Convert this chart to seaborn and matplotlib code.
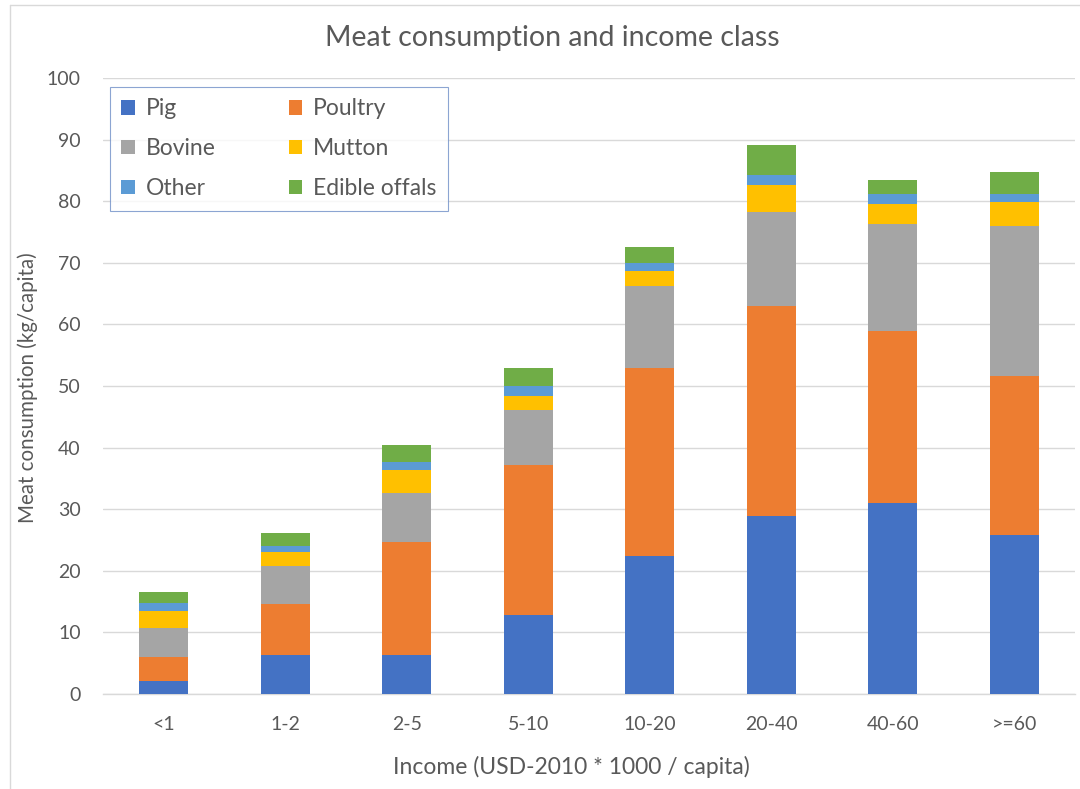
import matplotlib
matplotlib.use("Agg")
import matplotlib.pyplot as plt
from matplotlib.patches import Patch
from matplotlib.lines import Line2D
import numpy as np
import pandas as pd
import seaborn as sns

# Income classes (thousand USD-2010 per capita)
income_classes = ["<1", "1-2", "2-5", "5-10", "10-20", "20-40", "40-60", ">=60"]

# Meat consumption per type, kg/capita
pig = [2.1, 6.3, 6.3, 12.9, 22.4, 28.9, 31.0, 25.8]
poultry = [3.9, 8.3, 18.3, 24.2, 30.6, 34.1, 27.9, 25.8]
bovine = [4.7, 6.1, 8.1, 9.0, 13.2, 15.3, 17.4, 24.4]
mutton = [2.7, 2.3, 3.7, 2.3, 2.5, 4.3, 3.3, 3.8]
other = [1.3, 1.0, 1.3, 1.6, 1.2, 1.7, 1.5, 1.3]
edible_offals = [1.9, 2.2, 2.7, 3.0, 2.6, 4.8, 2.3, 3.7]

meat_types = ["Pig", "Poultry", "Bovine", "Mutton", "Other", "Edible offals"]
colors = ["#4472C4", "#ED7D31", "#A5A5A5", "#FFC000", "#5B9BD5", "#70AD47"]

df = pd.DataFrame({
    "income": income_classes,
    "Pig": pig,
    "Poultry": poultry,
    "Bovine": bovine,
    "Mutton": mutton,
    "Other": other,
    "Edible offals": edible_offals,
})
# Cumulative heights for stacking
cum = df[meat_types].cumsum(axis=1)

sns.set_theme(style="white")
plt.rcParams["font.family"] = ["Lato", "DejaVu Sans"]
text_color = "#595959"
grid_color = "#D9D9D9"

fig = plt.figure(figsize=(10.8, 7.89), dpi=100)
ax = fig.add_axes([103 / 1080, 1 - 694 / 789, 972 / 1080, 616 / 789])

# Draw the tallest cumulative layer first so each lower layer sits on top
for name, color in reversed(list(zip(meat_types, colors))):
    sns.barplot(x=df["income"], y=cum[name], color=color, saturation=1,
                width=0.4, ax=ax, order=income_classes, linewidth=0,
                errorbar=None, zorder=3)

ax.set_ylim(0, 100)
ax.set_yticks(np.arange(0, 101, 10))
ax.yaxis.grid(True, color=grid_color, linewidth=1, zorder=0)
ax.set_axisbelow(True)
for side in ["left", "right", "top"]:
    ax.spines[side].set_visible(False)
ax.spines["bottom"].set_color(grid_color)
ax.spines["bottom"].set_linewidth(1)
ax.tick_params(axis="both", length=0, labelsize=14, colors=text_color)
ax.tick_params(axis="y", pad=16)
ax.tick_params(axis="x", pad=16)

ax.set_xlabel("Income (USD-2010 * 1000 / capita)", fontsize=16.5,
              color=text_color)
ax.set_ylabel("Meat consumption (kg/capita)", fontsize=14.8,
              color=text_color)
ax.xaxis.set_label_coords((571 - 103) / 972, -(767 - 694) / 616)
ax.yaxis.set_label_coords(-(103 - 28) / 972, (694 - 388) / 616)
ax.xaxis.label.set_va("center")
ax.yaxis.label.set_va("center")

fig.text(552 / 1080, 1 - 38 / 789, "Meat consumption and income class",
         ha="center", va="center", fontsize=20.5, color=text_color)

# Legend in two columns, row-wise order
order = [0, 2, 4, 1, 3, 5]
handles = [Patch(facecolor=colors[i], edgecolor="none") for i in order]
labels = [meat_types[i] for i in order]
leg = ax.legend(handles, labels, ncol=2, loc="upper left",
                bbox_to_anchor=((110 - 103) / 972, (694 - 87) / 616),
                borderaxespad=0, fontsize=16.5, frameon=True, fancybox=False,
                handlelength=0.6, handleheight=0.6, handletextpad=0.45,
                columnspacing=3.2, labelspacing=0.82, borderpad=0.5)
leg.get_frame().set_edgecolor("#6F8FC7")
leg.get_frame().set_linewidth(0.8)
for t in leg.get_texts():
    t.set_color(text_color)

# Chart-area border
fig.add_artist(Line2D([10 / 1080, 1], [1 - 4.5 / 789, 1 - 4.5 / 789],
                      color=grid_color, lw=1, transform=fig.transFigure))
fig.add_artist(Line2D([10 / 1080, 10 / 1080], [0, 1 - 4.5 / 789],
                      color=grid_color, lw=1, transform=fig.transFigure))

fig.savefig("out.png", dpi=100)
